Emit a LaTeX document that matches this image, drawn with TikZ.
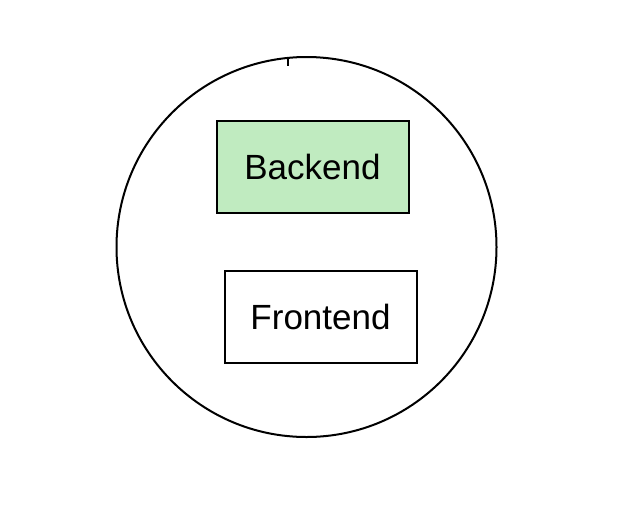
\documentclass[tikz,border=0pt]{standalone}
\usepackage{fontspec}
\setmainfont{Liberation Sans}
\usepackage{tikz}
\definecolor{softgreen}{RGB}{192,235,192}
\tikzstyle{ring}=[circle, draw=black, line width=2pt, minimum size=380pt, inner sep=0pt]
\tikzstyle{part}=[rectangle, draw=black, line width=2pt, minimum width=192pt, minimum height=92pt, font=\fontsize{35}{40}\selectfont]
\tikzstyle{greenpart}=[part, fill=softgreen]

\begin{document}
\begin{tikzpicture}[x=1pt, y=-1pt]
	\useasboundingbox (0, 0) rectangle (628, 528);
	\node [style=ring] (app) at (306.5, 247) {};
	\node [style=greenpart] (backend) at (312.5, 167) {Backend};
	\node [style=part] (frontend) at (320.5, 317) {Frontend};
	\coordinate (tick) at (288, 66);
	\draw [line width=1.5pt] (app.north) ++(-18.5, 1) to (tick);
\end{tikzpicture}
\end{document}
